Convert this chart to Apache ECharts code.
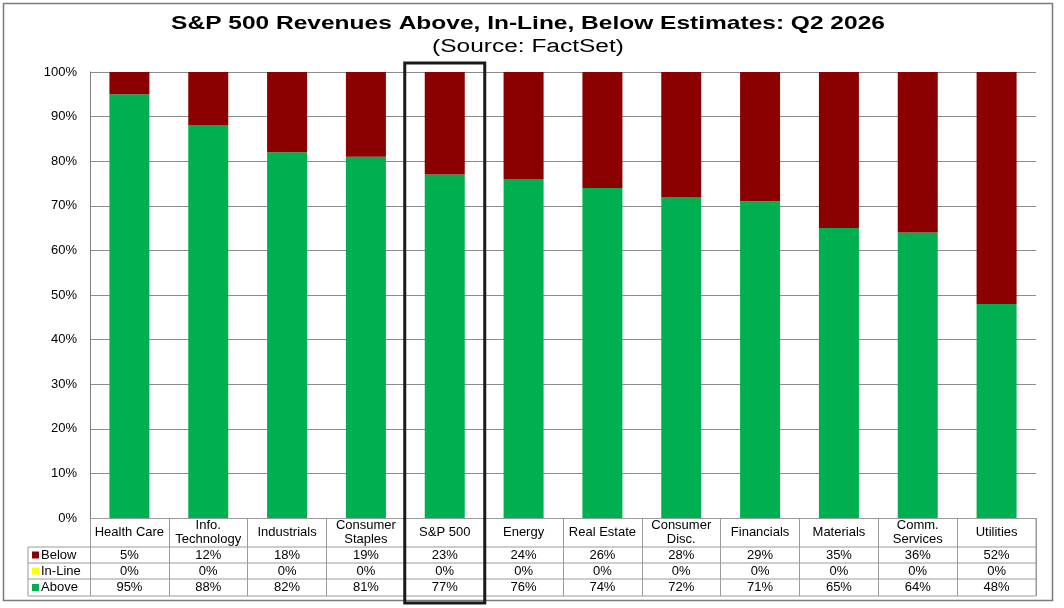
<!DOCTYPE html>
<html>
<head>
<meta charset="utf-8">
<script src="https://cdn.jsdelivr.net/npm/echarts@6/dist/echarts.min.js"></script>
<style>
  html, body { margin: 0; padding: 0; background: #fff; }
  #chart { width: 1064px; height: 608px; }
</style>
</head>
<body>
<div id="chart"></div>
<script>
// sectors, in the order shown
const categories = [
  'Health Care', 'Info.\nTechnology', 'Industrials', 'Consumer\nStaples', 'S&P 500',
  'Energy', 'Real Estate', 'Consumer\nDisc.', 'Financials', 'Materials',
  'Comm.\nServices', 'Utilities'
];
const below = [5, 12, 18, 19, 23, 24, 26, 28, 29, 35, 36, 52];
const inLine = [0, 0, 0, 0, 0, 0, 0, 0, 0, 0, 0, 0];
const above = [95, 88, 82, 81, 77, 76, 74, 72, 71, 65, 64, 48];
const yTicks = [0, 10, 20, 30, 40, 50, 60, 70, 80, 90, 100];

const GREEN = '#00B050';
const YELLOW = '#FFFF00';
const RED = '#8B0000';
const LINE = '#9a9a9a';
const FONT = 'Liberation Sans, Arial, sans-serif';

const chart = echarts.init(document.getElementById('chart'));

const G_LEFT = 90, G_RIGHT = 28, G_TOP = 72, G_BOTTOM = 90;
const axisY = 608 - G_BOTTOM; // 518
const rowLines = [547, 563, 579, 596];

// one extra axis per table row, labels come from the value arrays
function rowAxis(values, margin) {
  return {
    type: 'category',
    data: categories,
    gridIndex: 0,
    position: 'bottom',
    axisLine: { show: false },
    axisTick: { show: false },
    axisLabel: {
      interval: 0,
      margin: margin,
      verticalAlign: 'middle',
      fontSize: 13,
      fontFamily: FONT,
      color: '#000',
      formatter: (v, i) => values[i] + '%'
    }
  };
}

const option = {
  animation: false,
  backgroundColor: '#fff',
  textStyle: { fontFamily: FONT },
  grid: { left: G_LEFT, right: G_RIGHT, top: G_TOP, bottom: G_BOTTOM, containLabel: false },
  xAxis: [
    {
      type: 'category',
      data: categories,
      axisLine: { show: true, lineStyle: { color: LINE, width: 1 } },
      axisTick: {
        show: true, alignWithLabel: false, interval: 0,
        length: rowLines[3] - axisY,
        lineStyle: { color: LINE, width: 1 }
      },
      axisLabel: {
        interval: 0, margin: 14, verticalAlign: 'middle',
        fontSize: 13, lineHeight: 14, color: '#000', fontFamily: FONT
      }
    },
    rowAxis(below, 37),
    rowAxis(inLine, 53),
    rowAxis(above, 69)
  ],
  yAxis: {
    type: 'value',
    min: 0, max: 100, interval: 10,
    axisLine: { show: true, lineStyle: { color: '#808080' } },
    axisTick: { show: false },
    splitLine: { lineStyle: { color: '#8c8c8c', width: 1 } },
    axisLabel: {
      margin: 13, fontSize: 13, color: '#000', fontFamily: FONT,
      formatter: v => yTicks.includes(v) ? v + '%' : ''
    }
  },
  series: [
    { name: 'Above', type: 'bar', stack: 's', data: above, barWidth: 40,
      itemStyle: { color: GREEN } },
    { name: 'In-Line', type: 'bar', stack: 's', data: inLine, barWidth: 40,
      itemStyle: { color: YELLOW } },
    { name: 'Below', type: 'bar', stack: 's', data: below, barWidth: 40,
      itemStyle: { color: RED } }
  ]
};

chart.setOption(option);

// titles, table rules, legend keys, highlight box and outer frame
const gl = [];
gl.push({ type: 'text', x: 528, y: 23.5, scaleX: 1.29,
  style: { text: 'S&P 500 Revenues Above, In-Line, Below Estimates: Q2 2026',
    fontSize: 19, fontWeight: 'bold', fontFamily: FONT, fill: '#000',
    align: 'center', verticalAlign: 'middle' } });
gl.push({ type: 'text', x: 528, y: 47, scaleX: 1.36,
  style: { text: '(Source: FactSet)', fontSize: 18, fontFamily: FONT, fill: '#000',
    align: 'center', verticalAlign: 'middle' } });

const xL = 28, xR = 1064 - G_RIGHT;
rowLines.forEach(y => {
  gl.push({ type: 'line', shape: { x1: xL, y1: y, x2: xR, y2: y },
    style: { stroke: LINE, lineWidth: 1 }, silent: true });
});
gl.push({ type: 'line', shape: { x1: xL, y1: rowLines[0], x2: xL, y2: rowLines[3] },
  style: { stroke: LINE, lineWidth: 1 } });
gl.push({ type: 'line', shape: { x1: xR, y1: axisY, x2: xR, y2: rowLines[3] },
  style: { stroke: LINE, lineWidth: 1 } });

const keys = [['Below', RED], ['In-Line', YELLOW], ['Above', GREEN]];
keys.forEach((k, i) => {
  const cy = (rowLines[i] + rowLines[i + 1]) / 2;
  gl.push({ type: 'rect', shape: { x: 32, y: cy - 3.5, width: 7, height: 7 },
    style: { fill: k[1] } });
  gl.push({ type: 'text', x: 41, y: cy,
    style: { text: k[0], fontSize: 13, fontFamily: FONT, fill: '#000',
      verticalAlign: 'middle', align: 'left' } });
});

const spX = chart.convertToPixel({ xAxisIndex: 0 }, 'S&P 500');
gl.push({ type: 'rect', shape: { x: spX - 40, y: 63, width: 80, height: 540 },
  style: { fill: 'none', stroke: '#1a1a1a', lineWidth: 3 }, z: 100 });

gl.push({ type: 'rect', shape: { x: 3.5, y: 3.5, width: 1049, height: 597 },
  style: { fill: 'none', stroke: '#7a7a7a', lineWidth: 1.5 } });

chart.setOption({ graphic: gl });
</script>
</body>
</html>
